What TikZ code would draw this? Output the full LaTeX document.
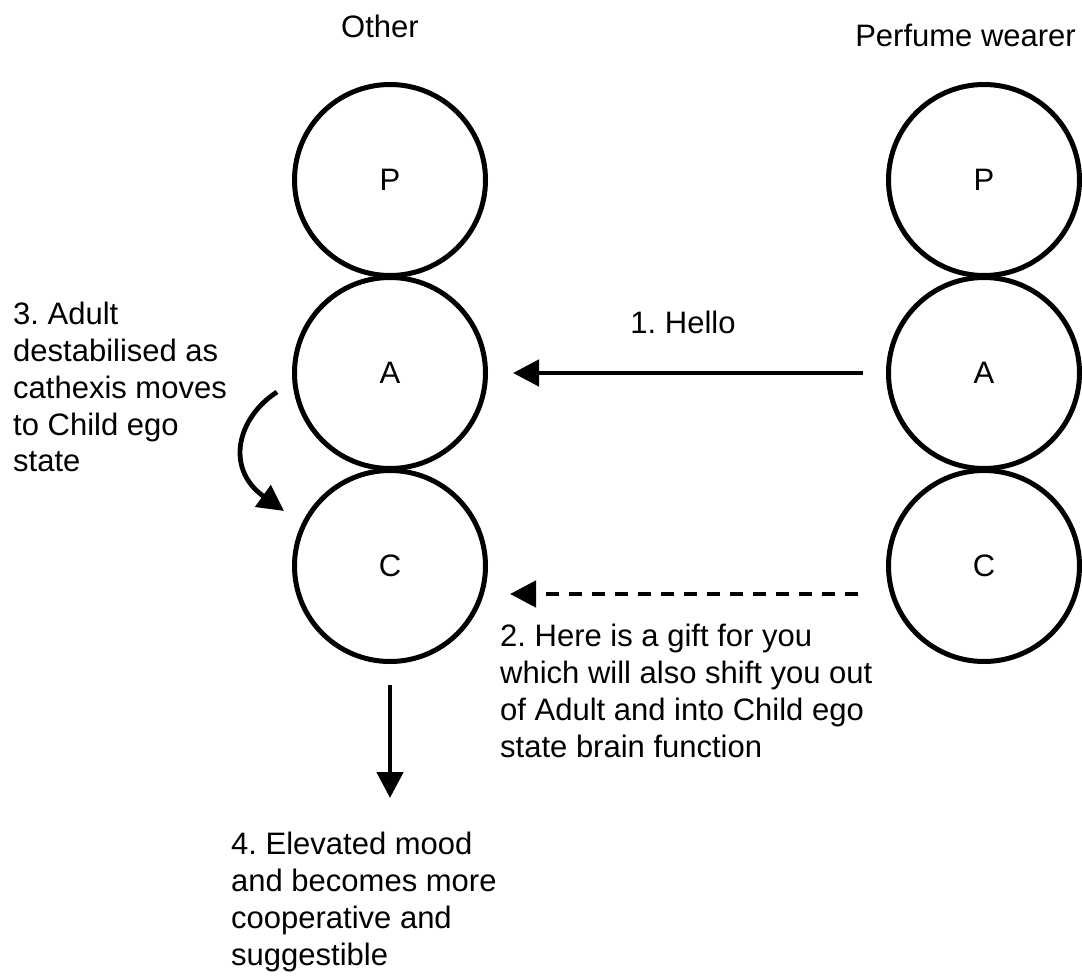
\documentclass[tikz,border=0pt]{standalone}
\usepackage{fontspec}
\setmainfont{Liberation Sans}
\usetikzlibrary{arrows.meta}
\frenchspacing
\begin{document}
\begin{tikzpicture}[x=1pt,y=-1pt,
  ego/.style={circle,draw,line width=5pt,minimum size=191pt,inner sep=0pt,
    font=\fontsize{31}{36}\selectfont},
  lbl/.style={font=\fontsize{31}{36.8}\selectfont,inner sep=0pt,align=left},
  arr/.style={line width=4.8pt,-{Triangle[length=26pt,width=26pt]}},
  dashedarr/.style={arr,dash pattern=on 13pt off 10pt}]
\useasboundingbox (0,0) rectangle (1082,977);

% column headings
\node[lbl,anchor=base] (hOther) at (380,37) {Other};
\node[lbl,anchor=base east] (hWearer) at (1076,46) {Perfume wearer};

% ego states of the other person
\node[ego] (lP) at (390,180) {P};
\node[ego] (lA) at (390,373) {A};
\node[ego] (lC) at (390,566) {C};

% ego states of the perfume wearer
\node[ego] (rP) at (984,180) {P};
\node[ego] (rA) at (984,373) {A};
\node[ego] (rC) at (984,566) {C};

% transaction 1: Adult to Adult
\draw[arr,shorten <=23pt,shorten >=25pt] (rA) -- (lA);
\node[lbl,anchor=base] (t1) at (683,333) {1. Hello};

% transaction 2: ulterior message to the Child
\coordinate (d1) at (858,594);
\coordinate (d2) at (510,594);
\draw[dashedarr] (d1) -- (d2);
\node[lbl,anchor=north west] (t2) at (500,624)
  {2. Here is a gift for you\\which will also shift you out\\of Adult and into Child ego\\state brain function};

% step 3: cathexis shifts from Adult to Child
\coordinate (c1) at (277,392);
\coordinate (c2) at (284,511);
\draw[arr] (c1) .. controls (238,417) and (224,468) .. (c2);
\node[lbl,anchor=north west] (t3) at (13,302)
  {3. Adult\\destabilised as\\cathexis moves\\to Child ego\\state};

% step 4: outcome
\coordinate (o1) at (390,798);
\draw[arr,shorten <=21pt] (lC.south) -- (o1);
\node[lbl,anchor=north west] (t4) at (231,832)
  {4. Elevated mood\\and becomes more\\cooperative and\\suggestible};
\end{tikzpicture}
\end{document}
